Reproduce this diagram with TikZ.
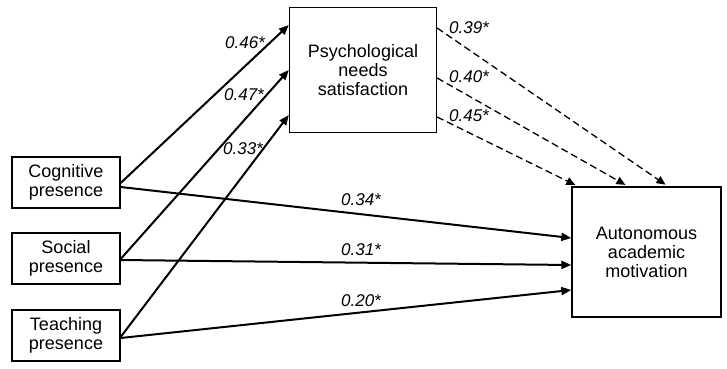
\documentclass[tikz,border=0pt]{standalone}
\usepackage{fontspec}
\setmainfont{Liberation Sans}
\usetikzlibrary{arrows.meta}
\begin{document}
\begin{tikzpicture}[x=1pt,y=-1pt,
  box/.style={draw,line width=1.3pt,align=center,inner sep=0pt,font=\fontsize{18}{19}\selectfont},
  coef/.style={font=\fontsize{17}{19}\selectfont\itshape,inner sep=0pt},
  solidarr/.style={line width=2pt,-{Triangle[length=10pt,width=8pt]}},
  dasharr/.style={line width=1.3pt,dash pattern=on 7pt off 4pt,-{Triangle[length=9pt,width=8pt]},shorten >=3pt}]
\useasboundingbox (0,0) rectangle (727,368);
\node[box,minimum width=108pt,minimum height=51pt] (cog) at (66,182.5) {Cognitive\\presence};
\node[box,minimum width=108pt,minimum height=51pt] (soc) at (66,258.5) {Social\\presence};
\node[box,minimum width=108pt,minimum height=51pt] (tea) at (66,335.5) {Teaching\\presence};
\node[box,minimum width=147pt,minimum height=125pt] (pns) at (363,70) {Psychological\\needs\\satisfaction};
\node[box,minimum width=149pt,minimum height=130pt] (aut) at (646.5,252) {Autonomous\\academic\\motivation};
% to PNS
\draw[solidarr] ([yshift=-0.5pt]cog.east) -- ([yshift=45pt]pns.west);
\draw[solidarr] ([yshift=-0.5pt]soc.east) -- (pns.west);
\draw[solidarr] ([yshift=-1.5pt]tea.east) -- ([yshift=-45pt]pns.west);
% direct
\draw[solidarr] ([yshift=-4.5pt]cog.east) -- ([yshift=14pt]aut.west);
\draw[solidarr] ([yshift=-1.5pt]soc.east) -- ([yshift=-13pt]aut.west);
\draw[solidarr] ([yshift=-2.5pt]tea.east) -- ([yshift=-38pt]aut.west);
% dashed
\draw[dasharr] ([yshift=42pt]pns.east) -- ([xshift=21.5pt]aut.north);
\draw[dasharr] ([yshift=-8pt]pns.east) -- ([xshift=-18.5pt]aut.north);
\draw[dasharr] ([yshift=-47pt]pns.east) -- ([xshift=-68.5pt]aut.north);
% labels
\node[coef] (l1) at (245,43) {0.46*};
\node[coef] (l2) at (244,95) {0.47*};
\node[coef] (l3) at (243,149) {0.33*};
\node[coef] (l4) at (469,28) {0.39*};
\node[coef] (l5) at (469,77) {0.40*};
\node[coef] (l6) at (469,116) {0.45*};
\node[coef] (l7) at (361,200) {0.34*};
\node[coef] (l8) at (361,250) {0.31*};
\node[coef] (l9) at (361,301) {0.20*};
\end{tikzpicture}
\end{document}
